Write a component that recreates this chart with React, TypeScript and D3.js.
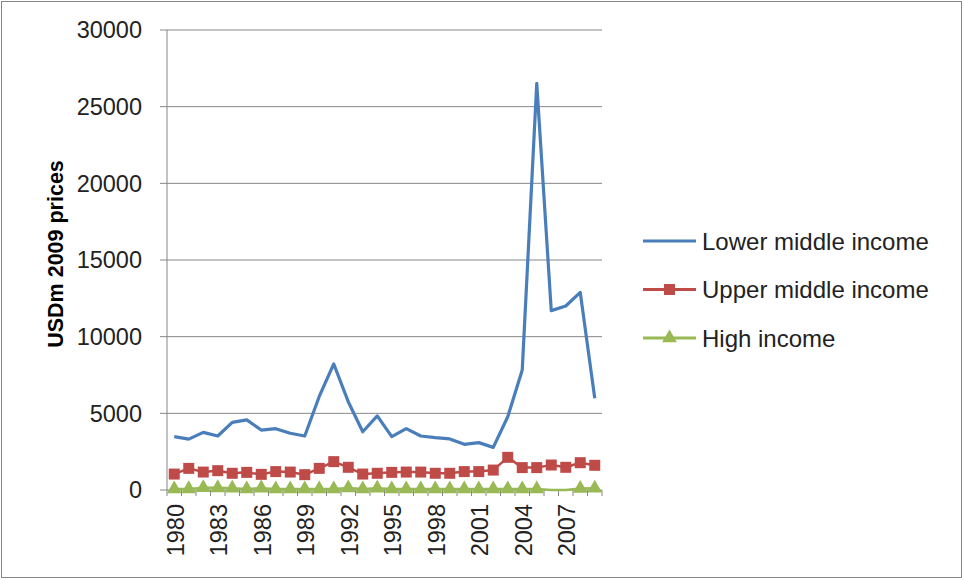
import React from 'react';
import * as d3 from 'd3';

const years = d3.range(1980, 2010).map(String);
const lowerMiddle = [3480, 3320, 3760, 3520, 4410, 4570, 3910, 4000, 3700, 3520, 6100, 8220, 5760, 3800, 4830,
  3480, 4000, 3520, 3410, 3330, 2980, 3090, 2780, 4780, 7830, 26520, 11700, 12000, 12890, 5980];
const upperMiddle = [1040, 1410, 1170, 1260, 1090, 1150, 1020, 1200, 1170, 1000, 1410, 1850, 1480, 1040, 1090,
  1150, 1170, 1170, 1090, 1090, 1200, 1200, 1300, 2130, 1460, 1460, 1630, 1480, 1780, 1610];
const highIncome: (number | null)[] = [60, 70, 150, 140, 110, 60, 120, 60, 60, 60, 60, 60, 130, 60, 110,
  60, 60, 60, 60, 60, 60, 60, 60, 60, 60, 60, null, null, 100, 110];
const yTicks = [0, 5000, 10000, 15000, 20000, 25000, 30000];
const xLabels = ['1980', '1983', '1986', '1989', '1992', '1995', '1998', '2001', '2004', '2007'];

const W = 964, H = 580;
const left = 167, right = 602, top = 30, bottom = 490;
const font = 'Liberation Sans, Arial, sans-serif';

export default function App() {
  const x = d3.scaleBand().domain(years).range([left, right]);
  const y = d3.scaleLinear().domain([0, 30000]).range([bottom, top]);
  const cx = (i: number) => (x(years[i]) as number) + x.bandwidth() / 2;

  const line = d3.line<number | null>().x((d, i) => cx(i)).y(d => y(d ?? 0));

  const series = [
    { name: 'Lower middle income', values: lowerMiddle, color: '#4a7ebb', marker: 'none' },
    { name: 'Upper middle income', values: upperMiddle, color: '#be4b48', marker: 'square' },
    { name: 'High income', values: highIncome, color: '#98b954', marker: 'triangle' },
  ];
  const tri = d3.symbol().type(d3.symbolTriangle).size(95)() as string;

  const marker = (type: string, color: string, px: number, py: number, key: string) => {
    if (type === 'square') return <rect key={key} x={px - 5.5} y={py - 5.5} width={11} height={11} fill={color} />;
    if (type === 'triangle') return <path key={key} d={tri} transform={`translate(${px},${py})`} fill={color} />;
    return null;
  };

  return (
    <div style={{ position: 'fixed', left: 0, top: 0 }}>
      <svg width={W} height={H} style={{ display: 'block', background: '#fff' }}>
        <rect x={1.5} y={1.5} width={960} height={576} fill="#fff" stroke="#868686" strokeWidth={1} />
        {yTicks.map(t => (
          <g key={t}>
            {t > 0 && <line x1={left} x2={right} y1={y(t)} y2={y(t)} stroke="#868686" strokeWidth={1} />}
            <line x1={left - 7} x2={left} y1={y(t)} y2={y(t)} stroke="#868686" />
            <text x={left - 25} y={y(t)} dy="0.36em" textAnchor="end" fontFamily={font} fontSize={23.5} fill="#222">{t}</text>
          </g>
        ))}
        <line x1={left} x2={left} y1={top} y2={bottom} stroke="#868686" />
        <line x1={left} x2={right} y1={bottom} y2={bottom} stroke="#868686" />
        {years.map(yr => (
          <line key={yr} x1={x(yr) as number} x2={x(yr) as number} y1={bottom} y2={bottom + 6} stroke="#868686" />
        ))}
        <line x1={right} x2={right} y1={bottom} y2={bottom + 6} stroke="#868686" />
        {xLabels.map(l => (
          <text key={l} transform={`translate(${(x(l) as number) + x.bandwidth() / 2 + 1},${bottom + 14}) rotate(-90)`}
            dy="0.36em" textAnchor="end" fontFamily={font} fontSize={23.5} fill="#222">{l}</text>
        ))}
        <text transform={`translate(55,${254}) rotate(-90)`} textAnchor="middle" dy="0.36em"
          fontFamily={font} fontSize={21.5} fontWeight="bold" fill="#000">USDm 2009 prices</text>

        {series.map(s => (
          <g key={s.name}>
            <path d={line(s.values) as string} fill="none" stroke={s.color} strokeWidth={s.marker === 'none' ? 3.2 : 2.5}
              strokeLinejoin="round" />
            {s.values.map((v, i) => v === null ? null : marker(s.marker, s.color, cx(i), y(v), s.name + i))}
          </g>
        ))}

        {series.map((s, i) => {
          const ly = 241 + i * 48.5;
          return (
            <g key={s.name}>
              <line x1={643} x2={696} y1={ly} y2={ly} stroke={s.color} strokeWidth={3} />
              {marker(s.marker, s.color, 669.5, ly, 'lg' + i)}
              <text x={702} y={ly} dy="0.36em" fontFamily={font} fontSize={24} fill="#222">{s.name}</text>
            </g>
          );
        })}
      </svg>
    </div>
  );
}
